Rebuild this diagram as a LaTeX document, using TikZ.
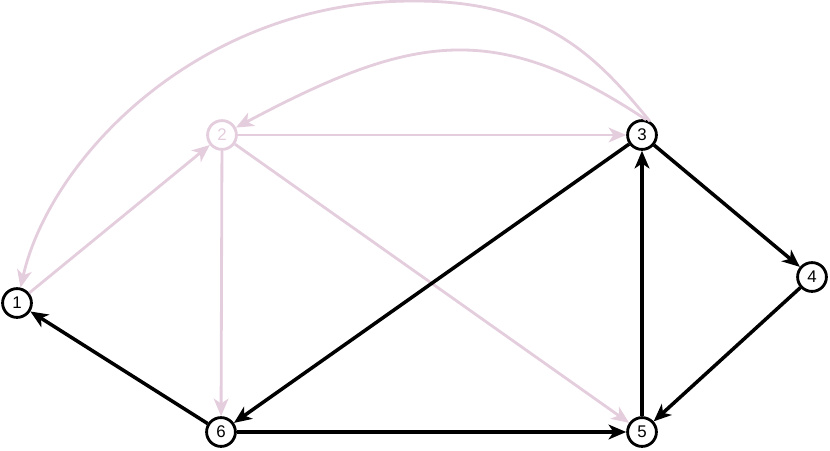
\documentclass[tikz,border=0pt]{standalone}
\usepackage{fontspec}
\setmainfont{Liberation Sans}
\usepackage{tikz}
\usetikzlibrary{arrows.meta}
\definecolor{lilac}{RGB}{228,205,221}

\begin{document}
\begin{tikzpicture}[x = 0.025cm, y = -0.025cm,
    vertex/.style = {draw, circle, fill=white, line width=2pt, minimum size=20.5pt,
        inner sep=0pt, font=\fontsize{12}{14}\selectfont},
    paleVertex/.style = {vertex, draw=lilac, text=lilac},
    edge/.style = {line width=2.5pt, -{Stealth[length=12.5pt, width=10.5pt, inset=3.5pt]}},
    paleEdge/.style = {edge, draw=lilac, line width=2pt}]

    \useasboundingbox (0,0) rectangle (830,450);

    \foreach \n/\x/\y in {1/17/303, 3/642/135, 4/812/277, 5/642/432, 6/221/432}
        \node[vertex] (n\n) at (\x,\y) {\n};
    \node[paleVertex] (n2) at (222,135) {2};

    % faded edges
    \foreach \a/\b in {1/2, 2/3, 2/6, 2/5}
        \draw[paleEdge] (n\a) -- (n\b);
    \coordinate (arcTop) at (415,1);
    \draw[paleEdge] (n3.60) .. controls (597,57) and (545,1) .. (arcTop)
        .. controls (200,0) and (50,158) .. (n1);
    \draw[paleEdge] (n3.75) .. controls (495,19) and (412,34) .. (n2);

    % solid edges
    \foreach \a/\b in {3/4, 4/5, 5/3, 3/6, 6/5, 6/1}
        \draw[edge] (n\a) -- (n\b);
\end{tikzpicture}
\end{document}
